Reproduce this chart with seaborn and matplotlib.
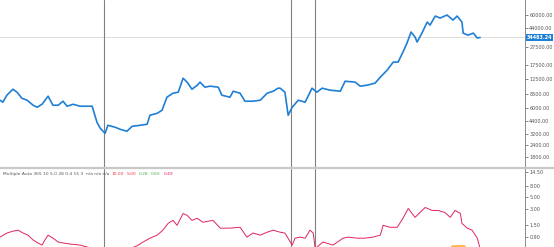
import numpy as np
import pandas as pd
import matplotlib
matplotlib.use("Agg")
import matplotlib.pyplot as plt
import matplotlib.ticker as mticker
import matplotlib.transforms as mtransforms
import seaborn as sns

# ---------------- data ----------------
start_date = pd.Timestamp("2018-04-01")

price_day = [0, 7, 17, 32, 42, 54, 67, 82, 92, 104, 119, 131, 144, 156, 166, 181, 198, 228,
             240, 248, 260, 267, 285, 297, 314, 327, 347, 364, 371, 389, 401, 413, 428, 441,
             453, 463, 475, 488, 495, 507, 520, 540, 549, 569, 577, 594, 606, 626, 644, 661,
             676, 688, 693, 705, 713, 723, 738, 755, 772, 784, 797, 817, 842, 854, 879, 891,
             908, 928, 941, 958, 973, 985, 997, 1007, 1017, 1027, 1032, 1044, 1057, 1064, 1077,
             1089, 1106, 1121, 1131, 1143, 1146, 1158, 1171, 1181, 1188]
price = [7320, 6970, 8280, 9600, 8920, 7690, 7320, 6460, 6150, 6620, 8080, 6460, 6460, 7140,
         6310, 6620, 6310, 6310, 4240, 3660, 3230, 3940, 3750, 3570, 3400, 3840, 3940, 4040,
         5050, 5300, 5710, 7880, 8700, 8920, 12600, 11430, 9600, 10600, 11430, 10100, 10350,
         10100, 8280, 7880, 9140, 8700, 7140, 7140, 7320, 8700, 9140, 9850, 9850, 8920, 5050,
         6150, 7320, 6970, 9850, 8920, 9850, 9370, 9140, 11700, 11430, 10350, 10600, 11150,
         12930, 15400, 18760, 18760, 24000, 30000, 39400, 34800, 30800, 38400, 50400, 46800,
         58500, 55700, 60000, 53000, 58500, 50400, 38400, 36500, 38400, 34000, 34483.24]

ind_day = [0, 17, 32, 45, 57, 69, 82, 94, 104, 111, 119, 131, 144, 156, 173, 198, 223, 248,
           272, 297, 327, 339, 354, 371, 389, 403, 416, 428, 438, 453, 463, 475, 488, 502, 527,
           545, 569, 594, 611, 626, 644, 661, 676, 693, 705, 723, 730, 742, 755, 767, 775, 780,
           799, 824, 849, 861, 884, 903, 923, 941, 948, 965, 983, 997, 1010, 1027, 1039, 1052,
           1069, 1084, 1101, 1114, 1126, 1139, 1143, 1156, 1168, 1181, 1188]
ind_val = [0.90, 1.07, 1.16, 1.21, 1.07, 0.98, 0.795, 0.70, 0.64, 0.795, 0.98, 0.86, 0.73,
           0.70, 0.67, 0.64, 0.57, 0.50, 0.45, 0.48, 0.57, 0.62, 0.73, 0.86, 0.98, 1.21, 1.62,
           1.84, 1.49, 2.47, 2.28, 1.84, 2.01, 1.70, 1.84, 1.32, 1.32, 1.37, 0.90, 1.07, 0.98,
           1.11, 1.21, 1.11, 1.07, 0.64, 0.86, 0.90, 0.86, 1.21, 1.07, 0.55, 0.73, 0.64, 0.86,
           0.90, 0.86, 0.86, 0.90, 0.98, 1.49, 1.37, 1.37, 2.01, 3.06, 2.09, 2.58, 3.19, 2.81,
           2.81, 2.58, 2.09, 2.81, 2.47, 1.62, 1.32, 1.21, 0.86, 0.55]

orange_day = [1119, 1148]
orange_val = [0.62, 0.62]

event_day = [257, 720, 780]
last_price = 34483.24

price_ticks = [60000, 44000, 27500, 17500, 12500, 8500, 6000, 4400, 3200, 2400, 1800]
ind_ticks = [14.5, 8.0, 5.0, 3.0, 1.5, 0.9]

legend_parts = [("Multiple Auto 365 10 5.0 28 0.4 15 3  n/a n/a n/a", "#555555"),
                ("10.00", "#f23645"), ("5.00", "#f23645"),
                ("0.28", "#4caf50"), ("0.60", "#4caf50"), ("0.49", "#e91e63")]

# ---------------- frames ----------------
df_price = pd.DataFrame({"date": start_date + pd.to_timedelta(price_day, unit="D"),
                         "price": price})
df_ind = pd.DataFrame({"date": start_date + pd.to_timedelta(ind_day, unit="D"),
                       "value": ind_val})
df_orange = pd.DataFrame({"date": start_date + pd.to_timedelta(orange_day, unit="D"),
                          "value": orange_val})
event_dates = start_date + pd.to_timedelta(event_day, unit="D")

# ---------------- figure ----------------
sns.set_theme(style="white")
plt.rcParams["font.family"] = ["DejaVu Sans"]

W, H = 554, 247
fig = plt.figure(figsize=(W / 100, H / 100), dpi=100)
axw = 525 / W
ax1 = fig.add_axes([0, (H - 168) / H, axw, 168 / H])
ax2 = fig.add_axes([0, 0, axw, (247 - 169) / H], sharex=ax1)

sns.lineplot(data=df_price, x="date", y="price", ax=ax1, color="#1f7fd4", linewidth=1.2)
sns.lineplot(data=df_ind, x="date", y="value", ax=ax2, color="#e0245e", linewidth=0.7)
sns.lineplot(data=df_orange, x="date", y="value", ax=ax2, color="#ffb74d", linewidth=2.0)

xmin = start_date
xmax = start_date + pd.Timedelta(days=1299)
ax1.set_xlim(xmin, xmax)

ax1.set_yscale("log")
ax1.set_ylim(1371, 87000)
ax2.set_yscale("log")
ax2.set_ylim(0.59, 16.5)

for ax, ticks in ((ax1, price_ticks), (ax2, ind_ticks)):
    ax.yaxis.set_major_locator(mticker.FixedLocator(ticks))
    ax.yaxis.set_major_formatter(mticker.FuncFormatter(lambda v, p: f"{v:.2f}"))
    ax.yaxis.set_minor_locator(mticker.NullLocator())
    ax.yaxis.tick_right()
    ax.tick_params(axis="y", labelsize=3.5, colors="#555555", length=2, width=0.5, pad=1)
    ax.tick_params(axis="x", bottom=False, labelbottom=False)
    ax.set_xlabel("")
    ax.set_ylabel("")
    for s in ("left", "top", "bottom"):
        ax.spines[s].set_visible(False)
    ax.spines["right"].set_color("#8a8a8a")
    ax.spines["right"].set_linewidth(0.7)
    ax.set_facecolor("white")
    for d in event_dates:
        ax.axvline(d, color="#808080", linewidth=0.8, zorder=1)

# last price line and label
ax1.axhline(last_price, color="#d8d8d8", linewidth=0.6, zorder=0)
trans = mtransforms.blended_transform_factory(ax1.transAxes, ax1.transData)
ax1.text(1.003, last_price, f"{last_price:.2f}", transform=trans, fontsize=3.5,
         color="white", fontweight="bold", va="center", ha="left", clip_on=False,
         bbox=dict(boxstyle="square,pad=0.2", fc="#1f7fd4", ec="none"), zorder=5)

# pane separator
fig.add_artist(plt.Line2D([0, 1], [(H - 168) / H, (H - 168) / H], transform=fig.transFigure,
                          color="#c8c8c8", linewidth=1.6))

# indicator legend: pieces placed one after another
fig.canvas.draw()
renderer = fig.canvas.get_renderer()
xpos = 3
gap = 2.5
for txt, col in legend_parts:
    t = fig.text(xpos / W, 1 - 174 / H, txt, fontsize=3.2, color=col, va="center", ha="left")
    bb = t.get_window_extent(renderer=renderer)
    xpos += bb.width + gap

fig.savefig("out.png", dpi=100, facecolor="white")
